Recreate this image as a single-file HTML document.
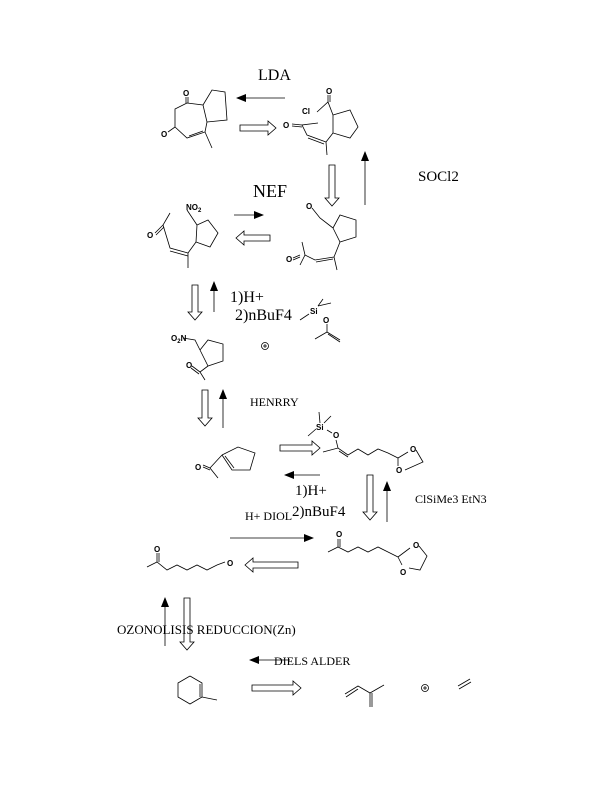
<!DOCTYPE html>
<html><head><meta charset="utf-8"><style>
html,body{margin:0;padding:0;background:#fff;}
svg{display:block;}
.t{font-family:"Liberation Serif",serif;fill:#000;}
.a{font-family:"Liberation Sans",sans-serif;font-weight:bold;fill:#000;font-size:8px;}
</style></head><body>
<svg width="602" height="800" viewBox="0 0 602 800" xmlns="http://www.w3.org/2000/svg">
<defs><marker id="h" markerWidth="10" markerHeight="8" refX="9" refY="4" orient="auto" markerUnits="userSpaceOnUse"><polygon points="0,0 10,4 0,8" fill="#000"/></marker></defs>
<g stroke="#000" stroke-width="0.8" fill="none">
<line x1="285" y1="98" x2="237" y2="98" marker-end="url(#h)"/>
<line x1="365" y1="205" x2="365" y2="152" marker-end="url(#h)"/>
<line x1="234" y1="215" x2="263" y2="215" marker-end="url(#h)"/>
<line x1="214" y1="312" x2="214" y2="282" marker-end="url(#h)"/>
<line x1="223" y1="428" x2="223" y2="390" marker-end="url(#h)"/>
<line x1="320" y1="475" x2="285" y2="475" marker-end="url(#h)"/>
<line x1="387" y1="522" x2="387" y2="482" marker-end="url(#h)"/>
<line x1="230" y1="538" x2="313" y2="538" marker-end="url(#h)"/>
<line x1="165" y1="646" x2="165" y2="598" marker-end="url(#h)"/>
<line x1="290" y1="660" x2="250" y2="660" marker-end="url(#h)"/>
</g>
<g stroke="#000" stroke-width="0.8" fill="#fff">
<polygon points="240,125 268,125 268,121 276,128 268,135 268,131 240,131"/>
<polygon points="329,165 335,165 335,198 339,198 332,206 325,198 329,198"/>
<polygon points="270,235 244,235 244,231 236,238 244,245 244,241 270,241"/>
<polygon points="192,285 198,285 198,312 202,312 195,320 188,312 192,312"/>
<polygon points="202,390 208,390 208,418 212,418 205,426 198,418 202,418"/>
<polygon points="280,445 312,445 312,441 320,448 312,455 312,451 280,451"/>
<polygon points="367,475 373,475 373,512 377,512 370,520 363,512 367,512"/>
<polygon points="298,562 253,562 253,558 245,565 253,572 253,568 298,568"/>
<polygon points="184,598 190,598 190,642 194,642 187,650 180,642 184,642"/>
<polygon points="252,685 293,685 293,681 301,688 293,695 293,691 252,691"/>
</g>
<g stroke="#000" stroke-width="0.8" fill="none">
<!-- dione -->
<polyline points="187,103 175,109 175,127 187,138 205,132 207,122 203,105 187,103"/>
<line x1="189" y1="136" x2="203" y2="131"/>
<line x1="186" y1="103" x2="186" y2="97"/>
<line x1="188" y1="103" x2="188" y2="97"/>
<line x1="175" y1="127" x2="168" y2="132"/>
<line x1="205" y1="132" x2="212" y2="148"/>
<polyline points="203,105 212,90 225,92 227,120 207,122"/>
<!-- acid chloride -->
<polyline points="333,115 350,110 358,127 350,138 333,133 333,115"/>
<polyline points="317,112 328,102 333,115"/>
<line x1="328" y1="102" x2="328" y2="95"/>
<line x1="330" y1="102" x2="330" y2="95"/>
<polyline points="333,133 326,142 327,155"/>
<polyline points="326,142 307,135 302,125 318,123"/>
<line x1="308" y1="138" x2="324" y2="144"/>
<line x1="302" y1="125" x2="292" y2="124"/>
<line x1="302" y1="127" x2="292" y2="126"/>
<!-- aldehyde -->
<polyline points="333,228 340,215 356,220 356,237 340,242 333,228"/>
<polyline points="333,228 320,218 312,208"/>
<polyline points="340,242 334,257 337,270"/>
<polyline points="334,257 315,260 305,255 300,265"/>
<line x1="316" y1="262" x2="333" y2="259"/>
<line x1="305" y1="255" x2="302" y2="242"/>
<line x1="300" y1="255" x2="293" y2="258"/>
<line x1="300" y1="257" x2="293" y2="260"/>
<!-- nitro unsaturated -->
<polyline points="196,242 197,225 208,220 218,233 210,247 196,242"/>
<polyline points="197,225 187,210"/>
<polyline points="196,242 188,253 188,268"/>
<polyline points="188,253 170,248 163,225 170,213"/>
<line x1="188" y1="256" x2="170" y2="251"/>
<line x1="163" y1="225" x2="155" y2="233"/>
<line x1="164" y1="227" x2="156" y2="235"/>
<!-- silyl enol ether -->
<line x1="300" y1="320" x2="309" y2="314"/>
<line x1="318" y1="306" x2="323" y2="299"/>
<line x1="318" y1="306" x2="331" y2="303"/>
<line x1="327" y1="324" x2="327" y2="332"/>
<line x1="327" y1="332" x2="315" y2="339"/>
<line x1="327" y1="332" x2="340" y2="340"/>
<line x1="328" y1="334" x2="340" y2="342"/>
<!-- nitro ketone sat -->
<polyline points="200,350 208,340 223,344 223,361 208,366 200,350"/>
<polyline points="200,350 195,340 183,338"/>
<polyline points="208,366 200,372 205,380"/>
<line x1="200" y1="372" x2="192" y2="366"/>
<line x1="199" y1="374" x2="191" y2="368"/>
<!-- acetylcyclopentene -->
<polyline points="222,455 238,447 255,453 250,470 232,470 222,455"/>
<line x1="225" y1="456" x2="234" y2="468"/>
<polyline points="222,455 210,468 218,478"/>
<line x1="210" y1="468" x2="203" y2="465"/>
<line x1="210" y1="470" x2="203" y2="467"/>
<!-- enol ether chain -->
<polyline points="323,452 338,448 348,455 358,449 368,455 378,449 388,453 398,458 408,452"/>
<line x1="339" y1="451" x2="348" y2="457"/>
<line x1="338" y1="448" x2="336" y2="440"/>
<polyline points="398,458 398,466"/>
<polyline points="416,450 423,462 405,470"/>
<line x1="327" y1="430" x2="332" y2="433"/>
<line x1="320" y1="423" x2="319" y2="412"/>
<line x1="324" y1="423" x2="331" y2="416"/>
<line x1="316" y1="429" x2="308" y2="436"/>
<!-- ketal -->
<polyline points="328,552 338,547 348,552 358,547 368,552 378,547 388,552 398,557 410,548"/>
<line x1="338" y1="547" x2="338" y2="539"/>
<line x1="340" y1="547" x2="340" y2="539"/>
<line x1="398" y1="557" x2="402" y2="565"/>
<polyline points="419,546 427,556 420,570 409,568"/>
<!-- keto aldehyde -->
<polyline points="147,567 157,562 167,570 177,565 187,570 197,565 207,570 217,565 225,562"/>
<line x1="157" y1="562" x2="157" y2="553"/>
<line x1="159" y1="562" x2="159" y2="553"/>
<!-- methylcyclohexene -->
<polyline points="190,676 202,683 202,697 190,704 178,697 178,683 190,676"/>
<line x1="200" y1="684" x2="200" y2="697"/>
<line x1="202" y1="697" x2="217" y2="700"/>
<!-- isoprene -->
<polyline points="345,694 358,686 370,693 384,685"/>
<line x1="346" y1="697" x2="358" y2="689"/>
<line x1="370" y1="693" x2="370" y2="707"/>
<line x1="372" y1="693" x2="372" y2="707"/>
<line x1="458" y1="686" x2="470" y2="679"/>
<line x1="459" y1="689" x2="471" y2="682"/>
<circle cx="265" cy="346" r="3.5"/><circle cx="425" cy="688" r="3.5"/>
<line x1="263" y1="346" x2="267" y2="346"/><line x1="265" y1="344" x2="265" y2="348"/>
<line x1="423" y1="688" x2="427" y2="688"/><line x1="425" y1="686" x2="425" y2="690"/>
</g>
<text class="a" x="183" y="96">O</text>
<text class="a" x="161" y="137">O</text>
<text class="a" x="302" y="114">Cl</text>
<text class="a" x="326" y="94">O</text>
<text class="a" x="283" y="128">O</text>
<text class="a" x="186" y="210">NO<tspan font-size="6" dy="2">2</tspan></text>
<text class="a" x="147" y="238">O</text>
<text class="a" x="306" y="209">O</text>
<text class="a" x="286" y="262">O</text>
<text class="a" x="310" y="314">Si</text>
<text class="a" x="323" y="323">O</text>
<text class="a" x="171" y="341">O<tspan font-size="6" dy="2">2</tspan><tspan dy="-2">N</tspan></text>
<text class="a" x="186" y="368">O</text>
<text class="a" x="195" y="470">O</text>
<text class="a" x="316" y="430">Si</text>
<text class="a" x="333" y="438">O</text>
<text class="a" x="410" y="452">O</text>
<text class="a" x="396" y="473">O</text>
<text class="a" x="336" y="537">O</text>
<text class="a" x="413" y="548">O</text>
<text class="a" x="400" y="575">O</text>
<text class="a" x="154" y="552">O</text>
<text class="a" x="227" y="566">O</text>
<text class="t" x="258" y="80" font-size="16">LDA</text>
<text class="t" x="253" y="197" font-size="18">NEF</text>
<text class="t" x="418" y="181" font-size="15">SOCl2</text>
<text class="t" x="230" y="302" font-size="16">1)H+</text>
<text class="t" x="235" y="320" font-size="16">2)nBuF4</text>
<text class="t" x="250" y="406" font-size="12">HENRRY</text>
<text class="t" x="295" y="495" font-size="15">1)H+</text>
<text class="t" x="292" y="516" font-size="15">2)nBuF4</text>
<text class="t" x="245" y="520" font-size="12">H+ DIOL</text>
<text class="t" x="415" y="503" font-size="12">ClSiMe3  EtN3</text>
<text class="t" x="117" y="634" font-size="13">OZONOLISIS REDUCCION(Zn)</text>
<text class="t" x="274" y="665" font-size="12">DIELS ALDER</text>
</svg>
</body></html>
